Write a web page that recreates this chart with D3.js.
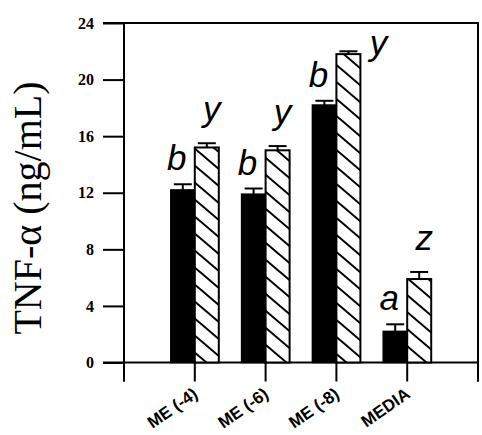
<!DOCTYPE html>
<html>
<head>
<meta charset="utf-8">
<script src="https://cdn.jsdelivr.net/npm/d3@7"></script>
<style>
  html, body { margin: 0; padding: 0; background: #fff; }
  svg { display: block; }
</style>
</head>
<body>
<svg id="chart" width="482" height="435"></svg>
<script>
// TNF-α release (ng/mL) per treatment; solid and hatched series with SEM
const categories = ["ME (-4)", "ME (-6)", "ME (-8)", "MEDIA"];
const solidValues = [12.2, 11.9, 18.2, 2.2];
const solidErrors = [0.4, 0.4, 0.3, 0.5];
const hatchValues = [15.2, 15.0, 21.8, 5.9];
const hatchErrors = [0.3, 0.3, 0.2, 0.5];
const solidLetters = ["b", "b", "b", "a"];
const hatchLetters = ["y", "y", "y", "z"];
const yTicks = [0, 4, 8, 12, 16, 20, 24];

const svg = d3.select("#chart");

const plot = { left: 124, right: 478, top: 23, bottom: 362.5 };

const y = d3.scaleLinear().domain([0, 24]).range([plot.bottom, plot.top]);
// category slots: boundaries at 0..5, groups centred on 1..4
const x = d3.scaleLinear().domain([0, categories.length + 1]).range([plot.left, plot.right]);

const barW = 24;

// diagonal hatching
const defs = svg.append("defs");
const pat = defs.append("pattern")
  .attr("id", "hatch")
  .attr("patternUnits", "userSpaceOnUse")
  .attr("width", 20).attr("height", 17);
pat.append("rect").attr("width", 20).attr("height", 17).attr("fill", "#fff");
pat.append("path")
  .attr("d", "M-20,-17L40,34M0,-17L40,17M-20,0L20,34")
  .attr("stroke", "#000").attr("stroke-width", 2);

const g = svg.append("g");

// axes frame
function line(x1, y1, x2, y2) {
  return g.append("line")
    .attr("x1", x1).attr("y1", y1).attr("x2", x2).attr("y2", y2)
    .attr("stroke", "#000").attr("stroke-width", 2);
}
line(103, plot.top, plot.right + 1, plot.top);            // top border
line(103, plot.bottom, plot.right + 1, plot.bottom);      // baseline
line(plot.left, plot.top, plot.left, plot.bottom + 19);   // y axis
line(plot.right, plot.top, plot.right, plot.bottom + 19); // right border

// y axis ticks and labels
const yAxis = d3.axisLeft(y).tickValues(yTicks).tickSize(21).tickSizeOuter(0).tickPadding(9);
const ya = svg.append("g").attr("transform", `translate(${plot.left},0)`).call(yAxis);
ya.select(".domain").remove();
ya.selectAll(".tick line").attr("stroke", "#000").attr("stroke-width", 2);
ya.selectAll(".tick text")
  .attr("font-family", "'Liberation Serif', 'Times New Roman', serif")
  .attr("font-weight", "bold")
  .attr("font-size", 16)
  .attr("fill", "#000");

// x boundary ticks
const bounds = d3.range(0, categories.length + 2);
g.selectAll(".xtick").data(bounds).join("line")
  .attr("x1", d => x(d)).attr("x2", d => x(d))
  .attr("y1", plot.bottom).attr("y2", plot.bottom + 19)
  .attr("stroke", "#000").attr("stroke-width", 2);

// x category labels
g.selectAll(".xlab").data(categories).join("text")
  .attr("transform", (d, i) => `translate(${x(i + 1) + 4},${plot.bottom + 34}) rotate(-35)`)
  .attr("text-anchor", "end")
  .attr("font-family", "'Liberation Sans', Arial, sans-serif")
  .attr("font-weight", "bold")
  .attr("font-size", 17)
  .attr("fill", "#000")
  .text(d => d);

// bars
const solidX = i => x(i + 1) - barW;
const hatchX = i => x(i + 1);

g.selectAll(".solid").data(solidValues).join("rect")
  .attr("x", (d, i) => solidX(i)).attr("width", barW)
  .attr("y", d => y(d)).attr("height", d => y(0) - y(d))
  .attr("fill", "#000").attr("stroke", "#000").attr("stroke-width", 1.5);

g.selectAll(".hatch").data(hatchValues).join("rect")
  .attr("x", (d, i) => hatchX(i)).attr("width", barW)
  .attr("y", d => y(d)).attr("height", d => y(0) - y(d))
  .attr("fill", "url(#hatch)").attr("stroke", "#000").attr("stroke-width", 2);

// error bars (upper only)
function errBars(vals, errs, xf) {
  vals.forEach((v, i) => {
    const cx = xf(i) + barW / 2;
    const top = y(v + errs[i]);
    line(cx, y(v), cx, top);
    line(cx - 9, top, cx + 9, top);
  });
}
errBars(solidValues, solidErrors, solidX);
errBars(hatchValues, hatchErrors, hatchX);

// significance letters
const letterFont = "'Liberation Sans', Arial, sans-serif";
g.selectAll(".sl").data(solidValues).join("text")
  .attr("x", (d, i) => solidX(i) + barW / 2 - 6)
  .attr("y", (d, i) => y(d + solidErrors[i]) - 14)
  .attr("text-anchor", "middle")
  .attr("font-family", letterFont).attr("font-style", "italic")
  .attr("font-size", 35).attr("fill", "#000")
  .text((d, i) => solidLetters[i]);

g.selectAll(".hl").data(hatchValues).join("text")
  .each(function (d, i) {
    const top = y(d + hatchErrors[i]);
    let tx = hatchX(i) + barW / 2 + 5;
    let ty = top - 22;
    if (ty - 24 < plot.top) { // no room above: sit beside the bar
      tx = hatchX(i) + barW + 18;
      ty = top + 4;
    }
    d3.select(this).attr("x", tx).attr("y", ty);
  })
  .attr("text-anchor", "middle")
  .attr("font-family", letterFont).attr("font-style", "italic")
  .attr("font-size", 35).attr("fill", "#000")
  .text((d, i) => hatchLetters[i]);

// y axis title
svg.append("text")
  .attr("transform", "translate(41,208) rotate(-90)")
  .attr("text-anchor", "middle")
  .attr("font-family", "'Liberation Serif', 'Times New Roman', serif")
  .attr("font-size", 40)
  .attr("fill", "#000")
  .text("TNF-α (ng/mL)");
</script>
</body>
</html>
